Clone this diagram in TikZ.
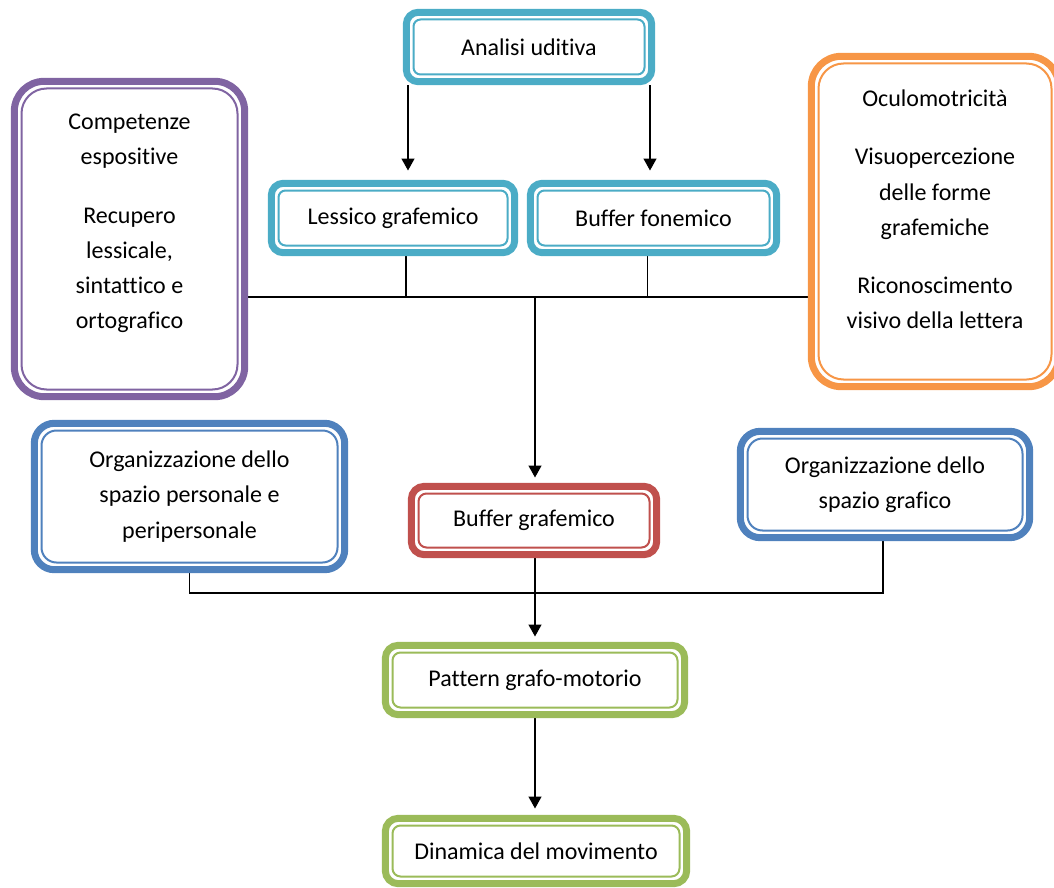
\documentclass[tikz,border=0pt]{standalone}
\usepackage{fontspec}
\setmainfont{Carlito}[Ligatures={NoCommon}]
\usetikzlibrary{arrows.meta,backgrounds,calc}
\definecolor{cteal}{HTML}{4BACC6}
\definecolor{cpurple}{HTML}{8064A2}
\definecolor{corange}{HTML}{F79646}
\definecolor{cblue}{HTML}{4F81BD}
\definecolor{cred}{HTML}{C0504D}
\definecolor{cgreen}{HTML}{9BBB59}
\tikzset{
  dbox/.style n args={4}{draw=#1, line width=7pt, rounded corners=#2, fill=white,
    inner sep=0pt, align=center, minimum width=#3, minimum height=#4,
    font=\fontsize{24}{35.3}\selectfont,
    path picture={\draw[#1, line width=2pt, rounded corners=#2-5pt]
      ([shift={(7.2pt,-7.2pt)}]path picture bounding box.north west) rectangle
      ([shift={(-7.2pt,7.2pt)}]path picture bounding box.south east);}},
  txt/.style={inner sep=0pt, anchor=base, font=\fontsize{24}{35}\selectfont},
  conn/.style={line width=1.4pt, black},
  arr/.style={conn, -{Triangle[width=13pt,length=12pt]}},
}
\begin{document}
\begin{tikzpicture}[x=1pt,y=-1pt]
\useasboundingbox (0,0) rectangle (1054,888);
\clip (0,0) rectangle (1054,888);
% boxes
\node[dbox={cteal}{12pt}{245.4pt}{69.4pt}] (ana) at (529,47) {Analisi uditiva};
\node[dbox={cteal}{12pt}{243.4pt}{69.4pt}] (lex) at (393,218) {Lessico grafemico};
\node[dbox={cteal}{12pt}{246.4pt}{69.4pt}] (bfon) at (653.5,218) {Buffer fonemico};
\node[dbox={cpurple}{30pt}{230.4pt}{315.4pt}] (comp) at (129.5,239) {};
\node[dbox={corange}{30pt}{247.4pt}{330.4pt}] (ocul) at (935,221.5) {};
\node[dbox={cblue}{20pt}{310.4pt}{146.4pt}] (lblue) at (189.5,496.5) {Organizzazione dello\\spazio personale e\\peripersonale};
\node[dbox={cblue}{20pt}{289.4pt}{106.4pt}] (rblue) at (885,484.5) {Organizzazione dello\\spazio grafico};
\node[dbox={cred}{13pt}{245.4pt}{68.4pt}] (bgraf) at (534,520.5) {Buffer grafemico};
\node[dbox={cgreen}{13pt}{299.4pt}{69.4pt}] (pat) at (535,680) {Pattern grafo-motorio};
\node[dbox={cgreen}{13pt}{301.4pt}{65.4pt}] (dyn) at (536,851) {Dinamica del movimento};
% texts of the tall boxes
\node[txt] (comptext) at (129.5,130) {\begin{tabular}[t]{@{}c@{}}Competenze\\espositive\\[23pt]Recupero\\lessicale,\\sintattico e\\ortografico\end{tabular}};
\node[txt] (ocultext) at (935,107) {\begin{tabular}[t]{@{}c@{}}Oculomotricità\\[23pt]Visuopercezione\\delle forme\\grafemiche\\[23pt]Riconoscimento\\visivo della lettera\end{tabular}};
% bus coordinates
\coordinate (busA) at (535,297);
\coordinate (busB) at (535,593);
\begin{scope}[on background layer]
\draw[arr, shorten >=9.3pt] ([xshift=-121pt]ana.south) -- ([xshift=-121pt]ana.south |- lex.north);
\draw[arr, shorten >=9.3pt] ([xshift=121pt]ana.south) -- ([xshift=121pt]ana.south |- bfon.north);
\draw[conn] ([xshift=13pt]lex.south) -- ([xshift=13pt]lex.south |- busA);
\draw[conn] ([xshift=-6pt]bfon.south) -- ([xshift=-6pt]bfon.south |- busA);
\draw[conn] (comp.east |- busA) -- (ocul.west |- busA);
\draw[arr, shorten >=5.3pt] (busA) -- (busA |- bgraf.north);
\draw[arr, shorten >=5.3pt] (bgraf.south -| busA) -- (pat.north -| busA);
\draw[conn] (lblue.south) -- (lblue.south |- busB) -- ([xshift=-2pt]rblue.south |- busB) -- ([xshift=-2pt]rblue.south);
\draw[arr, shorten >=6.3pt] (pat.south -| busA) -- (dyn.north -| busA);
\end{scope}
\end{tikzpicture}
\end{document}
